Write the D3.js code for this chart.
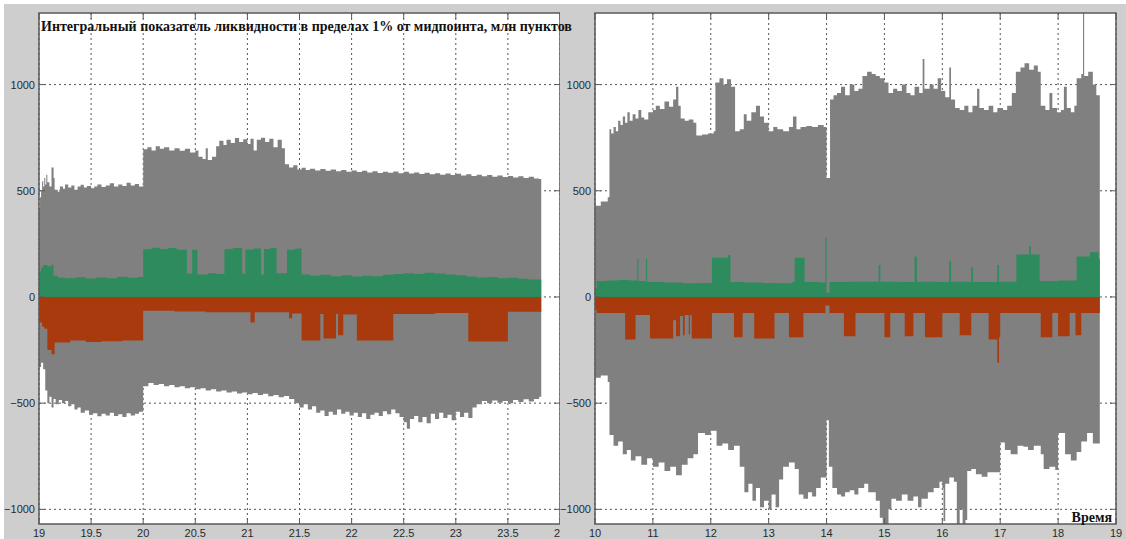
<!DOCTYPE html>
<html>
<head>
<meta charset="utf-8">
<script src="https://cdn.jsdelivr.net/npm/d3@7/dist/d3.min.js"></script>
<style>
  html, body { margin: 0; padding: 0; background: #ffffff; }
  svg { display: block; }
</style>
</head>
<body>
<svg id="chart" width="1126" height="539"></svg>
<script>
// Integrated liquidity within 1% of the midpoint, million points.
// Each series is a list of [time, value] step breakpoints.

const yTicks = [-1000, -500, 0, 500, 1000];
const leftXTicks = [19, 19.5, 20, 20.5, 21, 21.5, 22, 22.5, 23, 23.5, 24];
const rightXTicks = [10, 11, 12, 13, 14, 15, 16, 17, 18, 19];

// ---- evening session (19:00 - 23:50) ----
const leftTotalUp = [
  [19.00, 420], [19.01, 470], [19.02, 500], [19.03, 545], [19.04, 520], [19.05, 560],
  [19.06, 530], [19.07, 575], [19.08, 540], [19.10, 520], [19.12, 610], [19.14, 560],
  [19.15, 505], [19.18, 495], [19.20, 520], [19.23, 510], [19.25, 530], [19.28, 515],
  [19.31, 525], [19.34, 505], [19.37, 520], [19.40, 528], [19.43, 515], [19.46, 522],
  [19.50, 512], [19.53, 520], [19.56, 530], [19.60, 518], [19.64, 525], [19.68, 535],
  [19.72, 520], [19.76, 530], [19.80, 522], [19.84, 538], [19.88, 525], [19.92, 532],
  [19.96, 520], [20.00, 695], [20.04, 705], [20.08, 690], [20.12, 710], [20.16, 698],
  [20.20, 705], [20.25, 690], [20.30, 700], [20.35, 688], [20.40, 698], [20.45, 680],
  [20.50, 690], [20.53, 660], [20.57, 650], [20.60, 700], [20.62, 645], [20.66, 660],
  [20.70, 710], [20.73, 735], [20.77, 715], [20.80, 740], [20.84, 725], [20.88, 748],
  [20.92, 730], [20.96, 742], [21.00, 720], [21.03, 745], [21.06, 690], [21.09, 740],
  [21.13, 750], [21.17, 730], [21.21, 745], [21.25, 705], [21.29, 740], [21.33, 700],
  [21.36, 625], [21.40, 610], [21.44, 620], [21.48, 600], [21.52, 608], [21.56, 598],
  [21.60, 604], [21.65, 596], [21.70, 602], [21.75, 594], [21.80, 600], [21.85, 592],
  [21.90, 598], [21.95, 590], [22.00, 596], [22.05, 588], [22.10, 594], [22.15, 586],
  [22.20, 592], [22.25, 584], [22.30, 590], [22.35, 585], [22.40, 591], [22.45, 583],
  [22.50, 589], [22.55, 581], [22.60, 586], [22.65, 579], [22.70, 585], [22.75, 578],
  [22.80, 583], [22.85, 576], [22.90, 581], [22.95, 574], [23.00, 580], [23.05, 572],
  [23.10, 578], [23.15, 570], [23.20, 576], [23.25, 568], [23.30, 574], [23.35, 566],
  [23.40, 572], [23.45, 565], [23.50, 570], [23.55, 563], [23.60, 568], [23.65, 560],
  [23.70, 566], [23.75, 558], [23.80, 555], [23.82, 555]
];
const leftTotalDown = [
  [19.00, -330], [19.02, -310], [19.04, -340], [19.06, -440], [19.08, -500], [19.10, -470],
  [19.12, -520], [19.14, -480], [19.16, -505], [19.19, -485], [19.22, -500], [19.25, -490],
  [19.28, -515], [19.31, -505], [19.34, -530], [19.37, -520], [19.40, -545], [19.44, -535],
  [19.48, -555], [19.52, -548], [19.56, -562], [19.60, -550], [19.64, -558], [19.68, -545],
  [19.72, -560], [19.76, -552], [19.80, -565], [19.84, -548], [19.88, -558], [19.92, -550],
  [19.96, -540], [20.00, -420], [20.05, -405], [20.10, -415], [20.15, -410], [20.20, -420],
  [20.25, -415], [20.30, -425], [20.35, -420], [20.40, -430], [20.45, -425], [20.50, -435],
  [20.55, -430], [20.60, -440], [20.65, -435], [20.70, -445], [20.75, -440], [20.80, -450],
  [20.85, -445], [20.90, -455], [20.95, -450], [21.00, -458], [21.05, -452], [21.10, -462],
  [21.15, -456], [21.20, -468], [21.25, -462], [21.30, -472], [21.35, -466], [21.40, -480],
  [21.45, -500], [21.50, -520], [21.54, -505], [21.58, -530], [21.62, -515], [21.66, -545],
  [21.70, -535], [21.74, -560], [21.78, -540], [21.82, -555], [21.86, -530], [21.90, -550],
  [21.94, -540], [21.98, -558], [22.02, -545], [22.06, -565], [22.10, -548], [22.14, -575],
  [22.18, -555], [22.22, -545], [22.26, -560], [22.30, -538], [22.34, -552], [22.38, -530],
  [22.42, -548], [22.46, -565], [22.50, -590], [22.53, -620], [22.56, -575], [22.60, -560],
  [22.64, -590], [22.68, -565], [22.72, -595], [22.76, -550], [22.80, -575], [22.84, -545],
  [22.88, -570], [22.92, -555], [22.96, -580], [23.00, -540], [23.04, -565], [23.08, -545],
  [23.12, -570], [23.16, -520], [23.20, -505], [23.25, -490], [23.30, -500], [23.35, -488],
  [23.40, -498], [23.45, -490], [23.50, -500], [23.55, -485], [23.60, -495], [23.65, -482],
  [23.70, -492], [23.75, -480], [23.80, -470], [23.82, -470]
];
const leftBid = [
  [19.00, 120], [19.02, 140], [19.04, 150], [19.08, 145], [19.12, 152], [19.14, 100],
  [19.18, 92], [19.25, 88], [19.35, 93], [19.45, 87], [19.55, 92], [19.65, 88],
  [19.75, 95], [19.85, 90], [19.95, 94], [20.00, 225], [20.08, 232], [20.16, 226],
  [20.24, 230], [20.32, 222], [20.42, 110], [20.47, 222], [20.52, 106], [20.62, 112],
  [20.70, 108], [20.78, 226], [20.86, 230], [20.95, 110], [20.98, 224], [21.06, 228],
  [21.13, 106], [21.16, 226], [21.22, 230], [21.28, 112], [21.38, 222], [21.46, 228],
  [21.52, 106], [21.60, 100], [21.70, 104], [21.80, 98], [21.90, 102], [22.00, 96],
  [22.10, 100], [22.20, 98], [22.30, 104], [22.40, 108], [22.50, 112], [22.60, 108],
  [22.70, 114], [22.80, 110], [22.90, 106], [23.00, 102], [23.10, 96], [23.20, 92],
  [23.30, 94], [23.40, 88], [23.50, 90], [23.60, 86], [23.70, 82], [23.82, 82]
];
const leftAsk = [
  [19.00, -120], [19.03, -140], [19.05, -150], [19.08, -250], [19.12, -270], [19.15, -215],
  [19.30, -205], [19.45, -212], [19.60, -208], [19.80, -205], [20.00, -65], [20.30, -68],
  [20.60, -72], [21.03, -120], [21.07, -72], [21.40, -100], [21.43, -78], [21.52, -205],
  [21.70, -80], [21.73, -195], [21.85, -80], [21.87, -180], [21.92, -82], [22.05, -205],
  [22.40, -80], [22.80, -76], [23.12, -210], [23.50, -70], [23.82, -70]
];

// ---- day session (10:00 - 18:45) ----
const rightTotalUp = [
  [10.00, 430], [10.10, 450], [10.22, 470], [10.25, 790], [10.28, 770], [10.32, 800],
  [10.36, 780], [10.40, 830], [10.44, 810], [10.48, 850], [10.52, 820], [10.56, 870],
  [10.60, 830], [10.65, 860], [10.70, 840], [10.75, 880], [10.80, 845], [10.85, 835],
  [10.92, 870], [11.00, 880], [11.05, 900], [11.12, 885], [11.20, 920], [11.28, 895],
  [11.35, 930], [11.40, 990], [11.44, 900], [11.48, 840], [11.55, 830], [11.62, 835],
  [11.70, 820], [11.75, 760], [11.85, 765], [11.95, 770], [12.05, 780], [12.08, 1010],
  [12.15, 1030], [12.22, 1000], [12.28, 1025], [12.35, 990], [12.42, 780], [12.50, 790],
  [12.57, 860], [12.62, 830], [12.70, 870], [12.78, 900], [12.85, 850], [12.92, 820],
  [13.00, 780], [13.08, 800], [13.15, 790], [13.25, 780], [13.35, 800], [13.42, 850],
  [13.48, 790], [13.55, 800], [13.65, 805], [13.75, 800], [13.85, 810], [13.95, 800],
  [14.00, 560], [14.06, 930], [14.12, 950], [14.18, 960], [14.25, 990], [14.32, 950],
  [14.40, 1000], [14.48, 970], [14.55, 980], [14.62, 1040], [14.70, 1060], [14.78, 1050],
  [14.85, 1040], [14.92, 1030], [15.00, 1010], [15.07, 960], [15.15, 980], [15.22, 970],
  [15.30, 1000], [15.38, 960], [15.45, 950], [15.52, 990], [15.60, 960], [15.66, 1120],
  [15.69, 980], [15.78, 1000], [15.85, 980], [15.92, 1030], [15.98, 970], [16.05, 940],
  [16.12, 1080], [16.15, 930], [16.22, 890], [16.30, 880], [16.38, 900], [16.45, 870],
  [16.52, 900], [16.60, 980], [16.64, 890], [16.72, 880], [16.80, 900], [16.88, 870],
  [16.95, 890], [17.05, 880], [17.12, 900], [17.20, 960], [17.27, 1060], [17.35, 1080],
  [17.42, 1100], [17.50, 1070], [17.58, 1090], [17.65, 1060], [17.70, 900], [17.78, 880],
  [17.85, 960], [17.90, 890], [17.98, 870], [18.05, 880], [18.10, 990], [18.15, 890],
  [18.22, 870], [18.28, 900], [18.32, 1030], [18.40, 1050], [18.43, 1400], [18.45, 1040],
  [18.52, 1060], [18.60, 1000], [18.66, 950], [18.72, 950]
];
const rightTotalDown = [
  [10.00, -380], [10.10, -370], [10.22, -400], [10.25, -650], [10.32, -700], [10.40, -680],
  [10.48, -740], [10.55, -720], [10.62, -770], [10.70, -750], [10.80, -790], [10.90, -760],
  [11.00, -800], [11.10, -780], [11.20, -820], [11.30, -800], [11.40, -840], [11.50, -790],
  [11.60, -760], [11.70, -740], [11.78, -640], [11.90, -650], [12.00, -630], [12.10, -700],
  [12.20, -690], [12.30, -720], [12.40, -700], [12.50, -800], [12.58, -920], [12.65, -880],
  [12.72, -960], [12.78, -900], [12.85, -990], [12.92, -960], [13.00, -1000], [13.05, -930],
  [13.12, -990], [13.18, -860], [13.25, -800], [13.35, -780], [13.45, -810], [13.52, -930],
  [13.60, -950], [13.68, -920], [13.75, -940], [13.82, -900], [13.90, -850], [14.00, -580],
  [14.04, -800], [14.10, -900], [14.18, -930], [14.25, -940], [14.32, -920], [14.40, -910],
  [14.48, -930], [14.55, -900], [14.65, -880], [14.72, -920], [14.85, -960], [14.92, -1040],
  [14.97, -1090], [15.02, -1100], [15.07, -1000], [15.12, -950], [15.20, -960], [15.30, -930],
  [15.40, -960], [15.50, -940], [15.58, -990], [15.64, -950], [15.75, -920], [15.85, -900],
  [15.95, -870], [16.00, -900], [16.02, -1055], [16.05, -880], [16.12, -850], [16.20, -870],
  [16.25, -1080], [16.30, -1000], [16.35, -1070], [16.40, -1050], [16.43, -820], [16.50, -810],
  [16.58, -835], [16.68, -847], [16.78, -825], [16.88, -825], [17.00, -685], [17.08, -720],
  [17.18, -740], [17.30, -700], [17.40, -705], [17.48, -720], [17.58, -700], [17.70, -740],
  [17.75, -810], [17.85, -800], [17.95, -815], [18.00, -640], [18.07, -640], [18.12, -740],
  [18.22, -770], [18.32, -730], [18.40, -680], [18.50, -640], [18.60, -690], [18.72, -650]
];
const rightBid = [
  [10.00, 40], [10.03, 75], [10.20, 78], [10.40, 80], [10.60, 78], [10.73, 180],
  [10.75, 75], [10.88, 180], [10.90, 70], [11.20, 68], [11.50, 65], [11.80, 66],
  [12.02, 185], [12.30, 198], [12.34, 70], [12.60, 68], [12.90, 66], [13.20, 65],
  [13.40, 70], [13.45, 185], [13.62, 70], [13.90, 68], [13.98, 280], [14.00, 20],
  [14.05, 70], [14.40, 72], [14.90, 150], [14.93, 72], [15.30, 70], [15.52, 190],
  [15.56, 72], [15.90, 70], [16.12, 170], [16.15, 72], [16.50, 140], [16.53, 70],
  [16.95, 150], [16.98, 72], [17.28, 200], [17.50, 240], [17.53, 200], [17.68, 75],
  [18.00, 78], [18.32, 190], [18.55, 210], [18.70, 180], [18.72, 180]
];
const rightAsk = [
  [10.00, -60], [10.03, -75], [10.52, -200], [10.70, -85], [10.95, -195], [11.35, -110],
  [11.40, -185], [11.47, -90], [11.52, -180], [11.55, -85], [11.62, -175], [11.64, -85],
  [11.67, -195], [12.02, -75], [12.40, -190], [12.55, -75], [12.75, -195], [13.10, -75],
  [13.35, -190], [13.60, -75], [13.98, -40], [14.05, -75], [14.30, -185], [14.50, -75],
  [15.00, -190], [15.10, -75], [15.35, -185], [15.50, -75], [15.70, -190], [16.00, -75],
  [16.30, -180], [16.50, -75], [16.80, -200], [16.95, -310], [16.98, -190], [17.00, -75],
  [17.70, -190], [17.90, -75], [18.00, -185], [18.20, -75], [18.30, -180], [18.40, -75],
  [18.72, -75]
];

// ---- drawing ----
const W = 1126, H = 539;
const plotTop = 13, plotBottom = 524;
const COLORS = {
  figure: '#cecece', plot: '#ffffff', frame: '#5a5a5a',
  total: '#808080', bid: '#2e8b5e', ask: '#a83a0d', grid: '#3a3a3a', text: '#2a2a2a'
};

const svg = d3.select('#chart');
svg.append('rect').attr('width', W).attr('height', H).attr('fill', '#ffffff');
svg.append('rect').attr('x', 4).attr('y', 4).attr('width', W - 4).attr('height', H - 4)
  .attr('fill', COLORS.figure);

const y = d3.scaleLinear().domain([-1069, 1337]).range([plotBottom, plotTop]);

function drawPanel(id, x0, x1, domain, xTicks, series) {
  const g = svg.append('g').attr('class', 'panel-' + id);
  const x = d3.scaleLinear().domain(domain).range([x0, x1]);

  // figure background for this panel (also covers anything of the panel to its left)
  g.append('rect').attr('x', x0 - 35).attr('y', 4)
    .attr('width', x1 - x0 + 35 + (id === 'right' ? 20 : 0))
    .attr('height', H - 4).attr('fill', COLORS.figure);

  g.append('rect').attr('x', x0).attr('y', plotTop).attr('width', x1 - x0)
    .attr('height', plotBottom - plotTop).attr('fill', COLORS.plot);

  const clip = g.append('clipPath').attr('id', 'clip-' + id);
  clip.append('rect').attr('x', x0).attr('y', plotTop).attr('width', x1 - x0)
    .attr('height', plotBottom - plotTop);

  // dotted grid
  const grid = g.append('g').attr('stroke', COLORS.grid).attr('stroke-width', 1)
    .attr('stroke-dasharray', '2,3').attr('opacity', 0.85);
  xTicks.forEach(t => {
    grid.append('line').attr('x1', x(t)).attr('x2', x(t))
      .attr('y1', plotTop).attr('y2', plotBottom);
  });
  yTicks.forEach(v => {
    grid.append('line').attr('x1', x0).attr('x2', x1)
      .attr('y1', y(v)).attr('y2', y(v));
  });

  const data = g.append('g').attr('clip-path', `url(#clip-${id})`);
  const area = d3.area()
    .x(d => x(d[0]))
    .y0(y(0))
    .y1(d => y(d[1]))
    .curve(d3.curveStepAfter);

  data.append('path').datum(series.totalUp).attr('d', area).attr('fill', COLORS.total);
  data.append('path').datum(series.totalDown).attr('d', area).attr('fill', COLORS.total);
  data.append('path').datum(series.bid).attr('d', area).attr('fill', COLORS.bid);
  data.append('path').datum(series.ask).attr('d', area).attr('fill', COLORS.ask);

  // inner tick marks on all four sides
  const tickLen = 6;
  const ticks = g.append('g').attr('stroke', COLORS.frame).attr('stroke-width', 1);
  xTicks.forEach(t => {
    ticks.append('line').attr('x1', x(t)).attr('x2', x(t)).attr('y1', plotBottom).attr('y2', plotBottom - tickLen);
    ticks.append('line').attr('x1', x(t)).attr('x2', x(t)).attr('y1', plotTop).attr('y2', plotTop + tickLen);
  });
  yTicks.forEach(v => {
    ticks.append('line').attr('x1', x0).attr('x2', x0 + tickLen).attr('y1', y(v)).attr('y2', y(v));
    ticks.append('line').attr('x1', x1).attr('x2', x1 - tickLen).attr('y1', y(v)).attr('y2', y(v));
  });

  g.append('rect').attr('x', x0).attr('y', plotTop).attr('width', x1 - x0)
    .attr('height', plotBottom - plotTop).attr('fill', 'none')
    .attr('stroke', COLORS.frame).attr('stroke-width', 1.5);

  // tick labels
  const labels = g.append('g').attr('font-family', '"Liberation Sans", Arial, sans-serif')
    .attr('font-size', 11).attr('fill', COLORS.text);
  yTicks.forEach(v => {
    labels.append('text').attr('x', x0 - 4).attr('y', y(v) + 4)
      .attr('text-anchor', 'end').text(d3.format('d')(v));
  });
  xTicks.forEach(t => {
    labels.append('text').attr('x', x(t)).attr('y', 537)
      .attr('text-anchor', 'middle').text(String(t));
  });
  return x;
}

drawPanel('left', 39, 560, [19, 24], leftXTicks,
  { totalUp: leftTotalUp, totalDown: leftTotalDown, bid: leftBid, ask: leftAsk });
drawPanel('right', 595, 1116, [10, 19], rightXTicks,
  { totalUp: rightTotalUp, totalDown: rightTotalDown, bid: rightBid, ask: rightAsk });

// title and axis caption drawn last so they sit above both panels
svg.append('text')
  .attr('x', 41).attr('y', 31)
  .attr('font-family', '"Liberation Serif", "Times New Roman", serif')
  .attr('font-weight', 'bold').attr('font-size', 14).attr('fill', '#111')
  .text('Интегральный показатель ликвидности в пределах 1% от мидпоинта, млн пунктов');

svg.append('text')
  .attr('x', 1112).attr('y', 522)
  .attr('text-anchor', 'end')
  .attr('font-family', '"Liberation Serif", "Times New Roman", serif')
  .attr('font-weight', 'bold').attr('font-size', 14).attr('fill', '#111')
  .text('Время');
</script>
</body>
</html>
